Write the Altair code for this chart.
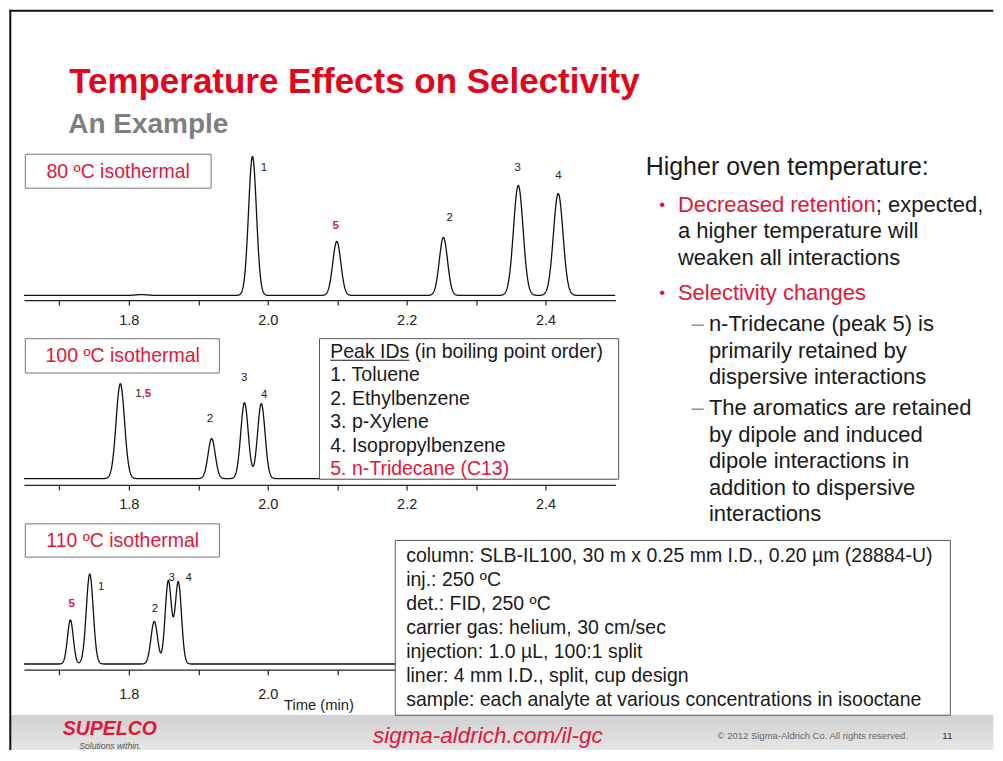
import altair as alt
import numpy as np
import pandas as pd

FONT = "Liberation Sans"
TITLE_RED = "#e3051b"
RED = "#e2163b"
INK = "#1a1a1a"
AXIS_INK = "#222222"

# ---------------- values ----------------
TIME_DOMAIN = [1.649, 2.5005]
TICK_VALUES = [1.7, 1.8, 1.9, 2.0, 2.1, 2.2, 2.3, 2.4]
# last labelled tick per panel (panel 3's right part is hidden under the conditions box)
LABEL_MAX = [2.45, 2.45, 2.05]

# 80 C isothermal: retention time (min), peak height (signal units), peak sigma (min)
t80_time = [1.978, 2.0994, 2.2529, 2.3607, 2.4182, 1.818]
t80_height = [139, 54, 58, 110, 102, 0.8]
t80_sigma = [0.0057, 0.0058, 0.0059, 0.0069, 0.0069, 0.008]
t80_labels = ["1", "5", "2", "3", "4"]
t80_label_time = [1.9944, 2.0979, 2.2618, 2.3597, 2.4186]
t80_label_height = [128, 69, 77, 128, 120]

# 100 C isothermal (peaks 1 and 5 co-elute)
t100_time = [1.7870, 1.7888, 1.9192, 1.9665, 1.9907]
t100_height = [58, 38, 40, 76, 75]
t100_sigma = [0.0060, 0.0060, 0.0052, 0.0054, 0.0054]
t100_labels = ["1,", "5", "2", "3", "4"]
t100_label_time = [1.8161, 1.8276, 1.9168, 1.9661, 1.9948]
t100_label_height = [85, 85, 59.7, 101, 83.4]

# 110 C isothermal
t110_time = [1.7158, 1.7437, 1.8366, 1.8568, 1.8712]
t110_height = [44, 90, 42.6, 83, 82]
t110_sigma = [0.0042, 0.0050, 0.0048, 0.00455, 0.00455]
t110_labels = ["5", "1", "2", "3", "4"]
t110_label_time = [1.7178, 1.7600, 1.8376, 1.8617, 1.8861]
t110_label_height = [60, 76.6, 55, 86, 86]

# baseline level above the axis line, per panel
baseline_level = [4.7, 6.3, 5.7]

# texts
title_text = "Temperature Effects on Selectivity"
subtitle_text = "An Example"
panel_titles = ["80 \u00baC isothermal", "100 \u00baC isothermal", "110 \u00baC isothermal"]
peak_ids_head = "Peak IDs (in boiling point order)"
peak_ids = ["1. Toluene", "2. Ethylbenzene", "3. p-Xylene", "4. Isopropylbenzene"]
peak_id_red = "5. n-Tridecane (C13)"
conditions = [
    "column: SLB-IL100, 30 m x 0.25 mm I.D., 0.20 \u00b5m (28884-U)",
    "inj.: 250 \u00baC",
    "det.: FID, 250 \u00baC",
    "carrier gas: helium, 30 cm/sec",
    "injection: 1.0 \u00b5L, 100:1 split",
    "liner: 4 mm I.D., split, cup design",
    "sample: each analyte at various concentrations in isooctane",
]
heading = "Higher oven temperature:"
bullet1_red = "Decreased retention"
bullet1_rest = "; expected,"
bullet1_more = ["a higher temperature will", "weaken all interactions"]
bullet2_red = "Selectivity changes"
sub1 = ["n-Tridecane (peak 5) is", "primarily retained by", "dispersive interactions"]
sub2 = ["The aromatics are retained", "by dipole and induced", "dipole interactions in",
        "addition to dispersive", "interactions"]

# ---------------- layout helpers ----------------
PANEL_W, PANEL_H, GAP = 592, 150, 35
OX = 22.7
OY = [148.7, 148.7 + PANEL_H + GAP, 148.7 + 2 * (PANEL_H + GAP)]
ONE = pd.DataFrame({"k": [0]})


def txt(s, x, y, k, size, color=INK, align="left", weight="normal", style="normal", baseline="middle"):
    return alt.Chart(ONE).mark_text(
        text=s, font=FONT, fontSize=size, color=color, align=align,
        baseline=baseline, fontWeight=weight, fontStyle=style,
    ).encode(x=alt.value(x - OX), y=alt.value(y - OY[k]))


def box(x1, y1, x2, y2, k, stroke="#777777", sw=1.0, fill="white"):
    return alt.Chart(ONE).mark_rect(fill=fill, stroke=stroke, strokeWidth=sw).encode(
        x=alt.value(x1 - OX), x2=alt.value(x2 - OX),
        y=alt.value(y1 - OY[k]), y2=alt.value(y2 - OY[k]))


def plain_rect(x1, y1, x2, y2, k, fill):
    return alt.Chart(ONE).mark_rect(fill=fill, strokeWidth=0).encode(
        x=alt.value(x1 - OX), x2=alt.value(x2 - OX),
        y=alt.value(y1 - OY[k]), y2=alt.value(y2 - OY[k]))


def hrule(x1, x2, y, k, color, w):
    return alt.Chart(ONE).mark_rule(color=color, strokeWidth=w).encode(
        x=alt.value(x1 - OX), x2=alt.value(x2 - OX), y=alt.value(y - OY[k]))


def vrule(x, y1, y2, k, color, w):
    return alt.Chart(ONE).mark_rule(color=color, strokeWidth=w).encode(
        x=alt.value(x - OX), y=alt.value(y1 - OY[k]), y2=alt.value(y2 - OY[k]))


def chromatogram(k, times, heights, sigmas, labels, ltimes, lheights, label_pad, zindex, before, after):
    grid = np.round(np.arange(TIME_DOMAIN[0], TIME_DOMAIN[1] + 1e-9, 0.0004), 5)
    sig = np.zeros_like(grid)
    for t0, h, s in zip(times, heights, sigmas):
        sig += h * np.exp(-0.5 * ((grid - t0) / s) ** 2)
    trace = pd.DataFrame({"time": grid, "signal": sig})
    base = baseline_level[k]
    xs = alt.Scale(domain=TIME_DOMAIN, nice=False, zero=False)
    ys = alt.Scale(domain=[-base, PANEL_H - base], nice=False, zero=False)
    label_expr = ("round(datum.value * 10) % 2 == 0 && datum.value < " + str(LABEL_MAX[k])
                  + " ? format(datum.value, '.1f') : ''")
    ax = alt.Axis(
        values=TICK_VALUES, labelExpr=label_expr,
        title=None, grid=False, domainColor=AXIS_INK, domainWidth=1.3,
        tickColor=AXIS_INK, tickWidth=1.2, tickSize=5, labelFont=FONT,
        labelFontSize=14.5, labelColor=AXIS_INK, labelPadding=label_pad,
        labelOverlap=False, labelFlush=False, zindex=zindex,
    )
    X = alt.X("time:Q", scale=xs, axis=ax)
    Y = alt.Y("signal:Q", scale=ys, axis=None)
    line = alt.Chart(trace).mark_line(color="#111111", strokeWidth=1.3).encode(x=X, y=Y)
    lab = pd.DataFrame({"label": labels, "time": ltimes, "signal": lheights})
    blk = alt.Chart(lab).transform_filter("datum.label != '5'").mark_text(
        font=FONT, fontSize=11.5, color="#222222", baseline="middle").encode(x=X, y=Y, text="label:N")
    red = alt.Chart(lab).transform_filter("datum.label == '5'").mark_text(
        font=FONT, fontSize=11.5, fontWeight="bold", color=RED, baseline="middle").encode(x=X, y=Y, text="label:N")
    return alt.layer(*before, line, blk, red, *after).properties(width=PANEL_W, height=PANEL_H)


# ---------------- slide-level layers (in panel 1 coordinates) ----------------
band = alt.Chart(ONE).mark_rect(
    strokeWidth=0,
    fill=alt.Gradient(gradient="linear",
                      stops=[alt.GradientStop(color="#d0d0d0", offset=0),
                             alt.GradientStop(color="#e6e6e6", offset=1)],
                      x1=0, x2=0, y1=0, y2=1),
).encode(x=alt.value(8 - OX), x2=alt.value(993 - OX), y=alt.value(714 - OY[0]), y2=alt.value(749 - OY[0]))

slide = [
    plain_rect(8, 8, 993, 749, 0, "white"),
    band,
    vrule(9, 8, 749, 0, "#111111", 2),
    hrule(8, 993, 9, 0, "#111111", 2),
    txt(title_text, 68, 91.7, 0, 35, TITLE_RED, weight="bold", baseline="alphabetic"),
    txt(subtitle_text, 67, 131.7, 0, 28, "#7f7f7f", weight="bold", baseline="alphabetic"),
    box(24, 152.7, 210, 186.7, 0),
    txt(panel_titles[0], 117, 170, 0, 19.5, RED, align="center"),
    # right-hand text block
    txt(heading, 645, 165, 0, 25, INK),
    txt("\u2022", 661.7, 203.3, 0, 17, RED, align="center"),
    txt(bullet1_red, 677.3, 203.3, 0, 22, RED),
    txt(bullet1_rest, 875.4, 203.3, 0, 22, INK),
    txt("\u2022", 661.7, 291.7, 0, 17, RED, align="center"),
    txt(bullet2_red, 677.3, 291.7, 0, 22, RED),
    txt("\u2013", 697, 322.7, 0, 22, "#8f96a8", align="center"),
    txt("\u2013", 697, 406.7, 0, 22, "#8f96a8", align="center"),
    # footer
    txt("SUPELCO", 61.5, 728.3, 0, 19.5, RED, weight="bold", style="italic"),
    txt("Solutions within.", 78, 745.5, 0, 8.6, "#555555", style="italic"),
    txt("sigma-aldrich.com/il-gc", 372, 735, 0, 22.5, RED, style="italic"),
    txt("\u00a9 2012 Sigma-Aldrich Co. All rights reserved.", 717, 735, 0, 9.5, "#666666"),
    txt("11", 947, 735, 0, 10, "#333333", align="center"),
]
for i, s in enumerate(bullet1_more):
    slide.append(txt(s, 677.3, 229.8 + 26.5 * i, 0, 22, INK))
for i, s in enumerate(sub1):
    slide.append(txt(s, 708.3, 322.7 + 26.65 * i, 0, 22, INK))
for i, s in enumerate(sub2):
    slide.append(txt(s, 708.3, 406.7 + 26.65 * i, 0, 22, INK))

p1 = chromatogram(0, t80_time, t80_height, t80_sigma, t80_labels, t80_label_time,
                  t80_label_height, 8, 1, slide, [])

# ---------------- panel 2 overlays ----------------
p2_before = [
    box(24, 337.3, 218.3, 371.7, 1),
    txt(panel_titles[1], 121.5, 355, 1, 19.5, RED, align="center"),
]
p2_after = [
    box(318.5, 337.3, 618, 478, 1, stroke="#555555"),
    txt(peak_ids_head, 329.3, 350.7, 1, 19.5, INK),
    hrule(329.3, 408.4, 359, 1, INK, 1.1),
    txt(peak_id_red, 329.3, 350.7 + 23.4 * 5, 1, 19.5, RED),
]
for i, s in enumerate(peak_ids):
    p2_after.append(txt(s, 329.3, 350.7 + 23.4 * (i + 1), 1, 19.5, INK))

p2 = chromatogram(1, t100_time, t100_height, t100_sigma, t100_labels, t100_label_time,
                  t100_label_height, 8, 0, p2_before, p2_after)

# ---------------- panel 3 overlays ----------------
p3_before = [
    box(24, 522.7, 218.3, 556, 2),
    txt(panel_titles[2], 121.5, 540, 2, 19.5, RED, align="center"),
    txt("Time (min)", 318, 705.5, 2, 14.8, AXIS_INK, align="center"),
]
p3_after = [box(394.4, 539.3, 950, 714.3, 2, stroke="#555555")]
for i, s in enumerate(conditions):
    p3_after.append(txt(s, 405.3, 555 + 24 * i, 2, 19.5, INK))

p3 = chromatogram(2, t110_time, t110_height, t110_sigma, t110_labels, t110_label_time,
                  t110_label_height, 13, 0, p3_before, p3_after)

chart = alt.vconcat(p1, p2, p3, spacing=GAP, bounds="flush", padding=0).configure_view(stroke=None)

chart.save("out.html", embed_options={"renderer": "svg", "actions": False})
